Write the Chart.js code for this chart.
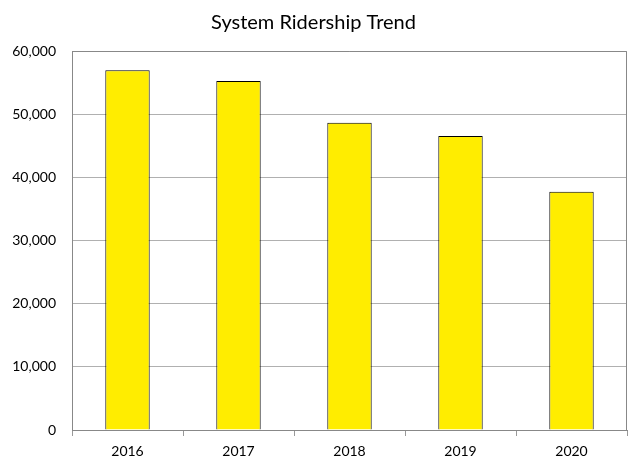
<!DOCTYPE html>
<html>
<head>
<meta charset="utf-8">
<script src="https://cdn.jsdelivr.net/npm/chart.js@4"></script>
<style>
  html, body { margin: 0; padding: 0; background: #fff; }
  #wrap { width: 628px; height: 458px; }
</style>
</head>
<body>
<div id="wrap"><canvas id="ridership" width="628" height="458"></canvas></div>
<script>
const years = ["2016", "2017", "2018", "2019", "2020"];
const riders = [56950, 55250, 48650, 46550, 37700];
const yTicks = [0, 10000, 20000, 30000, 40000, 50000, 60000];

const font = "Lato, 'Open Sans', sans-serif";

new Chart(document.getElementById("ridership"), {
  type: "bar",
  data: {
    labels: years,
    datasets: [
      {
        label: "Ridership",
        data: riders,
        backgroundColor: "#ffed00",
        borderColor: "#000",
        borderWidth: 1,
        categoryPercentage: 0.4,
        barPercentage: 1,
      },
    ],
  },
  options: {
    responsive: false,
    animation: false,
    layout: { padding: { left: 0, right: 1, top: 0, bottom: 0 } },
    plugins: {
      legend: { display: false },
      tooltip: { enabled: false },
      title: {
        display: true,
        text: "System Ridership Trend",
        color: "#000",
        font: { family: font, size: 20, weight: "normal" },
        padding: { top: 11, bottom: 16 },
      },
    },
    scales: {
      x: {
        grid: {
          display: true,
          drawOnChartArea: false,
          offset: true,
          color: "#999",
          tickLength: 6,
        },
        border: { color: "#888", width: 1 },
        ticks: { color: "#000", font: { family: font, size: 14 }, padding: 7 },
        afterFit: (axis) => { axis.height = 28; },
      },
      y: {
        min: 0,
        max: 60000,
        afterBuildTicks: (axis) => { axis.ticks = yTicks.map((v) => ({ value: v })); },
        grid: { color: "#b0b0b0", drawTicks: false },
        border: { color: "#888", width: 1 },
        ticks: {
          color: "#000",
          font: { family: font, size: 14 },
          padding: 16,
          callback: (v) => v.toLocaleString("en-US"),
        },
        afterFit: (axis) => { axis.width = 72; },
      },
    },
  },
  plugins: [
    {
      id: "frame",
      afterDraw(chart) {
        const { ctx, chartArea: a } = chart;
        ctx.save();
        ctx.strokeStyle = "#888";
        ctx.lineWidth = 1;
        ctx.beginPath();
        ctx.moveTo(a.left, a.top + 0.5);
        ctx.lineTo(a.right - 0.5, a.top + 0.5);
        ctx.lineTo(a.right - 0.5, a.bottom);
        ctx.stroke();
        ctx.restore();
      },
    },
  ],
});
</script>
</body>
</html>
